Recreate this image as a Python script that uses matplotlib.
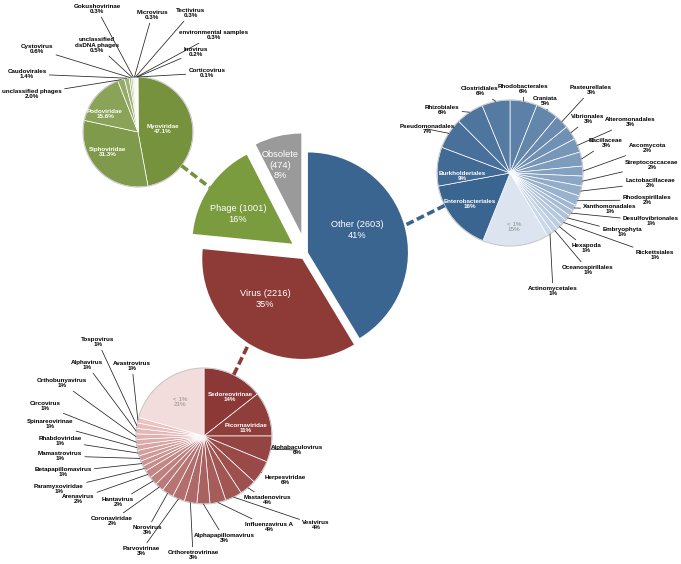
import numpy as np
import matplotlib
matplotlib.use("Agg")
import matplotlib.pyplot as plt
from matplotlib.colors import to_rgb
from matplotlib.patches import Circle

plt.rcParams['font.family'] = ['Liberation Sans Narrow', 'Liberation Sans', 'DejaVu Sans']

W, H = 681, 564

# main categories
main_names = ["Other", "Virus", "Phage", "Obsolete"]
main_counts = [2603, 2216, 1001, 474]
main_colors = ["#3B6591", "#8E3B38", "#7B9B3F", "#9A9A9A"]

# phage breakdown (%)
phage_names = ["Myoviridae", "Siphoviridae", "Podoviridae", "unclassified phages",
               "Caudovirales", "Cystovirus", "unclassified\ndsDNA phages",
               "Gokushovirinae", "Microvirus", "Tectivirus",
               "environmental samples", "Inovirus", "Corticovirus"]
phage_pct = [47.1, 31.3, 15.6, 2.0, 1.4, 0.6, 0.5, 0.3, 0.3, 0.3, 0.3, 0.2, 0.1]

# other breakdown (%), clockwise from 12 o'clock
other_names = ["Rhodobacterales", "Craniata", "Pasteurellales", "Vibrionales",
               "Alteromonadales", "Bacillaceae", "Ascomycota", "Streptococcaceae",
               "Lactobacillaceae", "Rhodospirillales", "Xanthomonadales",
               "Desulfovibrionales", "Embryophyta", "Rickettsiales", "Hexapoda",
               "Oceanospirillales", "Actinomycetales", "< 1%", "Enterobacteriales",
               "Burkholderiales", "Pseudomonadales", "Rhizobiales", "Clostridiales"]
other_pct = [6.0, 5.0, 3.1, 3.1, 3.1, 3.1, 2.2, 2.2, 2.2, 2.2, 1.3, 1.3, 1.3, 1.3,
             1.3, 1.3, 1.3, 14.6, 16.0, 8.6, 6.8, 6.2, 6.2]
other_shown = [6, 5, 3, 3, 3, 3, 2, 2, 2, 2, 1, 1, 1, 1, 1, 1, 1, 15, 16, 9, 7, 6, 6]

# virus breakdown (%), clockwise from 12 o'clock
virus_names = ["Sedoreovirinae", "Picornaviridae", "Alphabaculovirus", "Herpesviridae",
               "Mastadenovirus", "Vesivirus", "Influenzavirus A", "Alphapapillomavirus",
               "Orthoretrovirinae", "Parvovirinae", "Norovirus", "Coronaviridae",
               "Hantavirus", "Arenavirus", "Paramyxoviridae", "Betapapillomavirus",
               "Mamastrovirus", "Rhabdoviridae", "Spinareovirinae", "Circovirus",
               "Orthobunyavirus", "Alphavirus", "Tospovirus", "Avastrovirus", "< 1%"]
virus_pct = [14.4, 10.6, 6.2, 5.6, 4.0, 4.0, 3.8, 3.1, 3.0, 2.9, 2.8, 2.1, 2.0, 1.9,
             1.3, 1.3, 1.3, 1.3, 1.3, 1.3, 1.3, 1.3, 1.3, 1.3, 20.6]
virus_shown = [14, 11, 6, 6, 4, 4, 4, 3, 3, 3, 3, 2, 2, 2, 1, 1, 1, 1, 1, 1, 1, 1, 1, 1, 21]

# label layout, pixel coordinates (x, y from top)
main_label_pos = [(357, 230), (265, 299), (238, 214), (280, 165)]

phage_label_pos = [(163, 129), (108, 152), (105, 114), (32, 94), (27, 74), (37, 49),
                   (97, 45), (97, 9), (152, 15), (191, 13), (214, 35), (196, 52), (207, 73)]
other_label_pos = [(523, 89), (545, 101), (591, 90), (588, 119), (630, 122), (606, 143),
                   (647, 148), (652, 165), (650, 183), (647, 200), (610, 209), (651, 221),
                   (622, 232), (655, 255), (586, 248), (588, 270), (553, 291), (514, 227),
                   (470, 204), (462, 176), (427, 129), (442, 110), (480, 91)]
virus_label_pos = [(230, 397), (246, 428), (297, 450), (285, 480), (267, 500), (316, 525),
                   (269, 527), (224, 538), (193, 555), (141, 551), (147, 530), (112, 521),
                   (118, 502), (78, 499), (59, 489), (63, 472), (60, 456), (60, 441),
                   (50, 424), (45, 406), (62, 383), (87, 365), (98, 342), (132, 366),
                   (180, 402)]


def px(p):
    return (p[0], H - p[1])


def shades(dark, light, n):
    a, b = np.array(to_rgb(dark)), np.array(to_rgb(light))
    return [tuple(a + (b - a) * t) for t in np.linspace(0, 1, n)]


def edge_point(w, frac=1.0):
    ang = np.radians((w.theta1 + w.theta2) / 2)
    return (w.center[0] + w.r * frac * np.cos(ang), w.center[1] + w.r * frac * np.sin(ang))


fig = plt.figure(figsize=(6.81, 5.64), dpi=100)
ax = fig.add_axes([0, 0, 1, 1])

# main pie (explode offsets are in data units here)
main_center = px((306, 253))
main_r = 100
main_explode = [2, 7, 16.5, 20]
main_wedges, _ = ax.pie(main_counts, colors=main_colors, startangle=90, counterclock=False,
                        center=main_center, radius=main_r, explode=main_explode,
                        wedgeprops=dict(linewidth=0))
total = sum(main_counts)
for name, cnt, pos in zip(main_names, main_counts, main_label_pos):
    pct = round(100 * cnt / total)
    txt = f"Obsolete\n({cnt})\n{pct}%" if name == "Obsolete" else f"{name} ({cnt})\n{pct}%"
    ax.text(*px(pos), txt, ha="center", va="center", color="white", fontsize=6.7)

small_fs = 4.5
arrow = dict(arrowstyle="-", lw=0.55, color="#222222", shrinkA=0, shrinkB=0)


def sub_pie(values, colors, center, r, names, shown, positions, inside, gray, fmt):
    wedges, _ = ax.pie(values, colors=colors, startangle=90, counterclock=False,
                       center=center, radius=r,
                       wedgeprops=dict(edgecolor="white", linewidth=0.5))
    ax.add_patch(Circle(center, r, fill=False, edgecolor="#C8C8C8", lw=0.8))
    for i, (w, name, s, pos) in enumerate(zip(wedges, names, shown, positions)):
        txt = f"{name}\n{fmt(s)}"
        if i in inside:
            ax.text(*px(pos), txt, ha="center", va="center", color="white",
                    fontsize=small_fs, fontweight="bold")
        elif i in gray:
            ax.text(*px(pos), txt, ha="center", va="center", color="#8C8C8C",
                    fontsize=small_fs)
        else:
            ax.annotate(txt, xy=edge_point(w), xytext=px(pos), ha="center", va="center",
                        fontsize=small_fs, fontweight="bold", arrowprops=arrow)
    return wedges


def connector(wedge, center, r, color):
    end = np.array(edge_point(wedge))
    c = np.array(center)
    d = (end - c) / np.linalg.norm(end - c)
    start = c + d * r
    ax.plot([start[0], end[0]], [start[1], end[1]], color=color, lw=2.6,
            dashes=(2.2, 1.0), solid_capstyle="butt")


# phage pie
phage_center, phage_r = px((138, 132)), 55
phage_colors = shades("#76923C", "#F2F6EA", len(phage_pct))
sub_pie(phage_pct, phage_colors, phage_center, phage_r, phage_names, phage_pct,
        phage_label_pos, inside={0, 1, 2}, gray=set(), fmt=lambda v: f"{v:.1f}%")
connector(main_wedges[2], phage_center, phage_r, "#76923C")

# other pie
other_center, other_r = px((510, 173)), 73
grad = shades("#3A6591", "#C9D8EC", 22)
other_colors = grad[5:] + ["#DCE4F0"] + grad[:5]
sub_pie(other_pct, other_colors, other_center, other_r, other_names, other_shown,
        other_label_pos, inside={18, 19}, gray={17}, fmt=lambda v: f"{v}%")
connector(main_wedges[0], other_center, other_r, "#3B6591")

# virus pie
virus_center, virus_r = px((204, 436)), 68
virus_colors = shades("#8C3836", "#EDC3C2", 24) + ["#F2DDDC"]
sub_pie(virus_pct, virus_colors, virus_center, virus_r, virus_names, virus_shown,
        virus_label_pos, inside={0, 1}, gray={24}, fmt=lambda v: f"{v}%")
connector(main_wedges[1], virus_center, virus_r, "#8E3B38")

ax.set_xlim(0, W)
ax.set_ylim(0, H)
ax.set_aspect("equal")
ax.axis("off")
fig.savefig("out.png", dpi=100)
